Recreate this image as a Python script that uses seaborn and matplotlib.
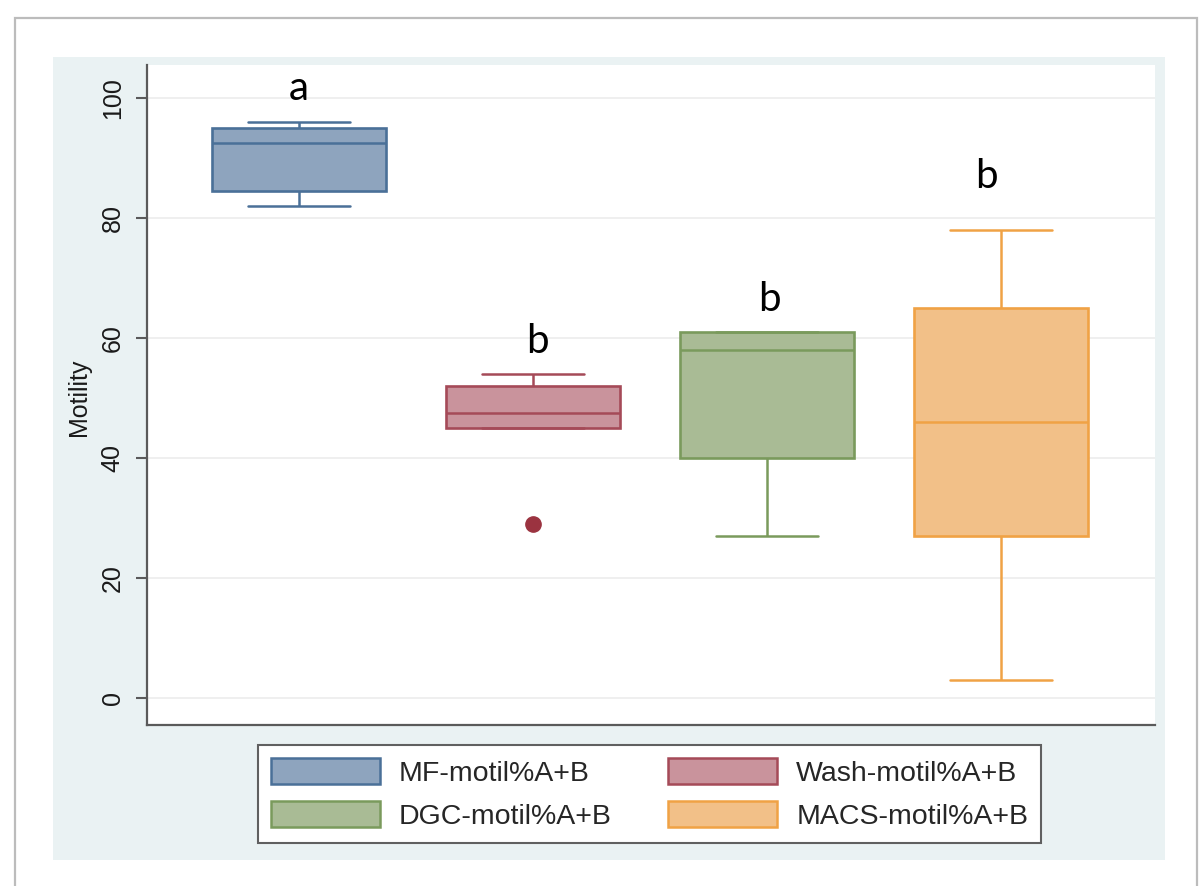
import numpy as np
import pandas as pd
import matplotlib.pyplot as plt
import seaborn as sns
from matplotlib.patches import Patch, Rectangle


groups = ["MF-motil%A+B", "Wash-motil%A+B", "DGC-motil%A+B", "MACS-motil%A+B"]

# five values per group (min, q1, median, q3, max)
mf_vals = [82, 84.5, 92.5, 95, 96]
wash_vals = [29, 45, 47.5, 52, 54]
dgc_vals = [27, 40, 58, 61, 61]
macs_vals = [3, 27, 46, 65, 78]

letters = ["a", "b", "b", "b"]
letter_y = [99.6, 57.5, 64.5, 85.0]
letter_dx = [0.0, 0.02, 0.01, -0.06]

yticks = [0, 20, 40, 60, 80, 100]

fills = ["#8ea4be", "#c9939c", "#a9bb95", "#f2c088"]
edges = ["#4a7098", "#a54a58", "#7a9a5c", "#f0a245"]
flier_color = "#9b3340"


def main():
    sns.set_theme(style="white")
    plt.rcParams["font.family"] = ["Liberation Sans", "DejaVu Sans"]

    df = pd.DataFrame({
        "group": np.repeat(groups, 5),
        "motility": np.concatenate([mf_vals, wash_vals, dgc_vals, macs_vals]),
    })

    fig = plt.figure(figsize=(12.02, 8.86), dpi=100)
    fig.patch.set_facecolor("white")

    # outer frame and stata-like graph region
    fig.patches.append(Rectangle((15 / 1202, -0.02), 1182 / 1202, 1 - 18 / 886 + 0.02,
                                 transform=fig.transFigure, facecolor="white",
                                 edgecolor="#bcbcbc", lw=1.6, zorder=-2))
    fig.patches.append(Rectangle((53 / 1202, 1 - 860 / 886), 1112 / 1202, 803 / 886,
                                 transform=fig.transFigure, facecolor="#eaf2f3",
                                 edgecolor="none", zorder=-1))

    ax = fig.add_axes([147 / 1202, 1 - 725 / 886, 1008 / 1202, 660 / 886])
    ax.set_facecolor("white")

    sns.boxplot(data=df, x="group", y="motility", hue="group",
                palette=dict(zip(groups, fills)), saturation=1, width=0.745,
                linewidth=1.8, whis=1.5, legend=False, ax=ax,
                flierprops=dict(marker="o", markersize=11))

    for i, cont in enumerate(ax.containers):
        for b in cont.boxes:
            b.set_edgecolor(edges[i])
            b.set_linewidth(1.9)
        for ln in list(cont.medians) + list(cont.whiskers):
            ln.set_color(edges[i])
            ln.set_linewidth(1.8)
        for ln in cont.caps:
            x = ln.get_xdata()
            c = np.mean(x)
            half = (x[1] - x[0]) / 2 * 1.17
            ln.set_xdata([c - half, c + half])
            ln.set_color(edges[i])
            ln.set_linewidth(1.8)
        for fl in cont.fliers:
            fl.set_markerfacecolor(flier_color)
            fl.set_markeredgecolor(flier_color)

    for i, (lt, y) in enumerate(zip(letters, letter_y)):
        ax.text(i + letter_dx[i], y, lt, ha="center", va="baseline",
                fontsize=29, family=["Lato", "DejaVu Sans"], color="black")

    ax.set_xlim(-0.65, 3.66)
    ax.set_ylim(-4.5, 105.5)
    ax.set_xticks([])
    ax.set_xlabel("")
    ax.set_yticks(yticks)
    ax.tick_params(axis="y", left=True, length=8, width=1.5, color="#5a5a5a", pad=8,
                   labelsize=18, labelcolor="#1a1a1a", labelrotation=90)
    for lbl in ax.get_yticklabels():
        lbl.set_va("center")
    ax.yaxis.grid(True, color="#ececec", lw=1.2)
    ax.set_axisbelow(True)

    for s in ["top", "right"]:
        ax.spines[s].set_visible(False)
    for s in ["left", "bottom"]:
        ax.spines[s].set_color("#5a5a5a")
        ax.spines[s].set_linewidth(1.6)

    ax.set_ylabel("Motility", fontsize=18, color="#1a1a1a")
    ax.yaxis.set_label_coords(-0.0675, 0.497)
    ax.yaxis.label.set_va("center")

    handles = [Patch(facecolor=fills[i], edgecolor=edges[i], lw=1.8) for i in range(4)]
    order = [0, 2, 1, 3]
    leg = fig.legend([handles[k] for k in order], [groups[k] for k in order],
                     ncol=2, loc="center", bbox_to_anchor=(649.5 / 1202, 1 - 794 / 886),
                     fontsize=20.5, handlelength=3.82, handleheight=1.02,
                     handletextpad=0.67, columnspacing=2.0, labelspacing=0.5,
                     borderpad=0.45, fancybox=False, frameon=True, framealpha=1)
    leg.get_frame().set_edgecolor("#606060")
    leg.get_frame().set_linewidth(1.5)
    leg.get_frame().set_facecolor("white")

    fig.savefig("out.png", dpi=100, facecolor=fig.get_facecolor())


if __name__ == "__main__":
    main()
